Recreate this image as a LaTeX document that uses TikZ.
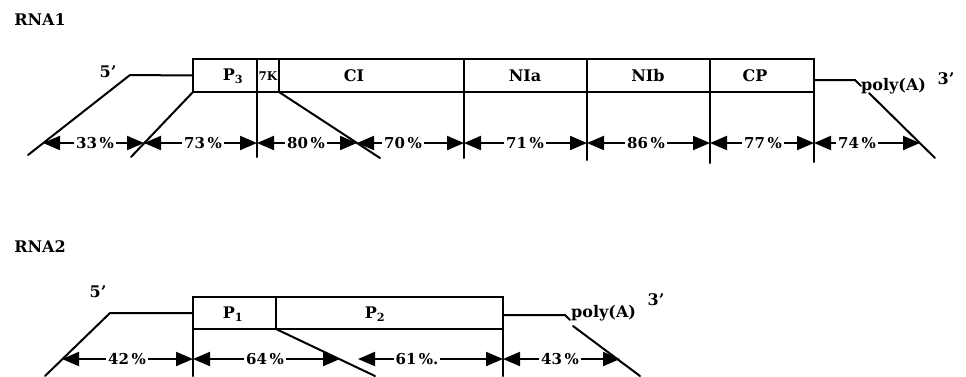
\documentclass[tikz,border=0pt]{standalone}
\usepackage{fontspec}
\setmainfont{DejaVu Serif}
\usetikzlibrary{arrows.meta}
\begin{document}
\begin{tikzpicture}[x=1pt,y=-1pt,
  ln/.style={line width=2pt, line cap=round},
  gbox/.style={draw, line width=2pt, minimum height=33pt, inner sep=0pt, outer sep=0pt, anchor=west},
  lbl/.style={font=\bfseries\fontsize{16}{16}\selectfont, inner sep=0pt},
  pct/.style={font=\bfseries\fontsize{15}{15}\selectfont, inner sep=1.5pt},
  dim/.style={line width=2pt, -{Triangle[length=17pt,width=14pt]}},
]
\useasboundingbox (0,0) rectangle (966,376);

% ---------- RNA1 ----------
\node[lbl] (rna1) at (40,20) {RNA1};
\node[lbl] (f1) at (108,72) {5'};

\node[gbox, minimum width=64pt]  (P3)  at (193,75.5) {};
\node[gbox, minimum width=22pt]  (K7)  at (257,75.5) {};
\node[gbox, minimum width=185pt] (CI)  at (279,75.5) {};
\node[gbox, minimum width=123pt] (NIa) at (464,75.5) {};
\node[gbox, minimum width=123pt] (NIb) at (587,75.5) {};
\node[gbox, minimum width=104pt] (CP)  at (710,75.5) {};

\node[lbl] (tP3)  at (233,76) {P\textsubscript{3}};
\node[lbl, font=\bfseries\fontsize{12}{12}\selectfont] (t7K) at (268,76) {7K};
\node[lbl] (tCI)  at (354,76) {CI};
\node[lbl] (tNIa) at (525,76) {NIa};
\node[lbl] (tNIb) at (648,76) {NIb};
\node[lbl] (tCP)  at (755,76) {CP};

\coordinate (L1)  at (130,75);
\coordinate (L1e) at (28,155);
\draw[ln] (L1e) -- (L1) -- (P3.west);

\coordinate (R1a) at (855,80);
\coordinate (R1b) at (861,86);
\draw[ln] (CP.east |- R1a) -- (R1a) -- (R1b);
\node[lbl, anchor=base west] (poly1) at (861,90) {poly(A)};
\node[lbl] (tp1) at (946,79) {3'};
\coordinate (dR1a) at (869,93);
\coordinate (dR1b) at (935,158);
\draw[ln] (dR1a) -- (dR1b);

\coordinate (d2e) at (131,157);
\coordinate (d3e) at (380,158);
\draw[ln] (P3.south west) -- (d2e);
\draw[ln] (K7.south east) -- (d3e);

\coordinate (v1) at (257,157);
\coordinate (v2) at (464,158);
\coordinate (v3) at (587,160);
\coordinate (v4) at (710,163);
\coordinate (v5) at (814,162);
\draw[ln] (P3.south east) -- (v1);
\draw[ln] (CI.south east) -- (v2);
\draw[ln] (NIa.south east) -- (v3);
\draw[ln] (NIb.south east) -- (v4);
\draw[ln] (CP.south east) -- (v5);

% arrow row RNA1
\coordinate (a1) at (43,143);
\coordinate (a2) at (144,143);
\coordinate (a3) at (257,143);
\coordinate (a4) at (357,143);
\coordinate (a5) at (464,143);
\coordinate (a6) at (587,143);
\coordinate (a7) at (710,143);
\coordinate (a8) at (814,143);
\coordinate (a9) at (920,143);

\node[pct] (p33) at (95,143)  {33\,\%};
\node[pct] (p73) at (203,143) {73\,\%};
\node[pct] (p80) at (306,143) {80\,\%};
\node[pct] (p70) at (403,143) {70\,\%};
\node[pct] (p71) at (525,143) {71\,\%};
\node[pct] (p86) at (646,143) {86\,\%};
\node[pct] (p77) at (763,143) {77\,\%};
\node[pct] (p74) at (857,143) {74\,\%};

\draw[dim] (p33.west) -- (a1); \draw[dim] (p33.east) -- (a2);
\draw[dim] (p73.west) -- (a2); \draw[dim] (p73.east) -- (a3);
\draw[dim] (p80.west) -- (a3); \draw[dim] (p80.east) -- (a4);
\draw[dim] (p70.west) -- (a4); \draw[dim] (p70.east) -- (a5);
\draw[dim] (p71.west) -- (a5); \draw[dim] (p71.east) -- (a6);
\draw[dim] (p86.west) -- (a6); \draw[dim] (p86.east) -- (a7);
\draw[dim] (p77.west) -- (a7); \draw[dim] (p77.east) -- (a8);
\draw[dim] (p74.west) -- (a8); \draw[dim] (p74.east) -- (a9);

% ---------- RNA2 ----------
\node[lbl] (rna2) at (40,247) {RNA2};
\node[lbl] (f2) at (98,292) {5'};

\node[gbox, minimum width=83pt,  minimum height=32pt] (P1) at (193,313) {};
\node[gbox, minimum width=227pt, minimum height=32pt] (P2) at (276,313) {};
\node[lbl] (tP1) at (233,314) {P\textsubscript{1}};
\node[lbl] (tP2) at (375,314) {P\textsubscript{2}};

\coordinate (L2)  at (110,313);
\coordinate (L2e) at (45,376);
\draw[ln] (L2e) -- (L2) -- (P1.west);

\coordinate (R2a) at (565,315);
\coordinate (R2b) at (570,320);
\draw[ln] (P2.east |- R2a) -- (R2a) -- (R2b);
\node[lbl, anchor=base west] (poly2) at (571,317) {poly(A)};
\node[lbl] (tp2) at (656,300) {3'};
\coordinate (dR2a) at (573,326);
\coordinate (dR2b) at (640,376);
\draw[ln] (dR2a) -- (dR2b);

\coordinate (w1) at (193,376);
\coordinate (w2) at (503,376);
\coordinate (w3) at (375,376);
\draw[ln] (P1.north west) -- (w1);
\draw[ln] (P2.south east) -- (w2);
\draw[ln] (P1.south east) -- (w3);

\coordinate (b1) at (62,359);
\coordinate (b2) at (193,359);
\coordinate (b3) at (340,359);
\coordinate (b4) at (358,359);
\coordinate (b5) at (503,359);
\coordinate (b6) at (620,359);

\node[pct] (p42) at (127,359) {42\,\%};
\node[pct] (p64) at (265,359) {64\,\%};
\node[pct] (p61) at (417,359) {61\,\%.};
\node[pct] (p43) at (560,359) {43\,\%};

\draw[dim] (p42.west) -- (b1); \draw[dim] (p42.east) -- (b2);
\draw[dim] (p64.west) -- (b2); \draw[dim] (p64.east) -- (b3);
\draw[dim] (p61.west) -- (b4); \draw[dim] (p61.east) -- (b5);
\draw[dim] (p43.west) -- (b5); \draw[dim] (p43.east) -- (b6);
\end{tikzpicture}
\end{document}
